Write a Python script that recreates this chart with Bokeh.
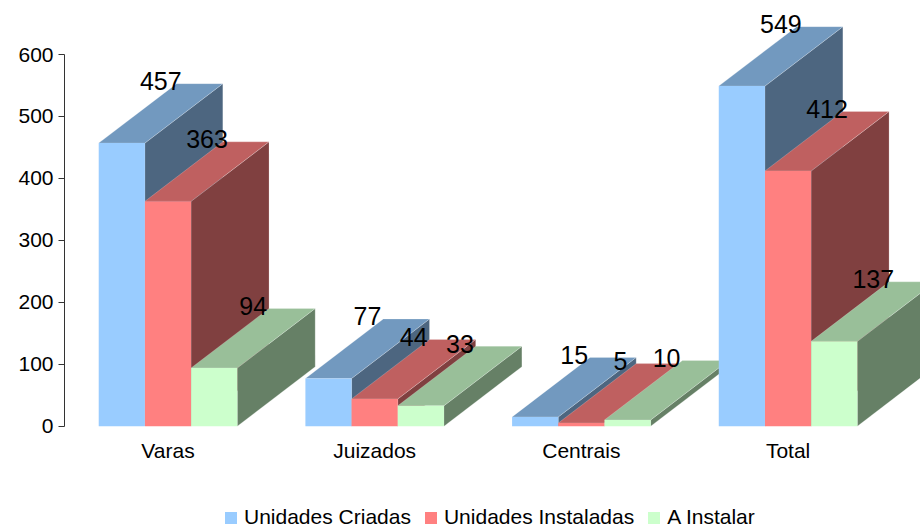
from bokeh.plotting import figure
from bokeh.embed import file_html
from bokeh.resources import INLINE
from bokeh.models import Range1d, FixedTicker, Legend, LegendItem
from bokeh.core.properties import value

categories = ["Varas", "Juizados", "Centrais", "Total"]
unidades_criadas = [457, 77, 15, 549]
unidades_instaladas = [363, 44, 5, 412]
a_instalar = [94, 33, 10, 137]
y_ticks = [0, 100, 200, 300, 400, 500, 600]

FONT = "Liberation Sans"
BAR_W = 0.2235
DEPTH_X = 0.377
DEPTH_Y = 96

series = [
    ("Unidades Criadas", unidades_criadas, -1, "#99CCFF", "#7299BF", "#4D6680"),
    ("Unidades Instaladas", unidades_instaladas, 0, "#FF8080", "#BF6060", "#804040"),
    ("A Instalar", a_instalar, 1, "#CCFFCC", "#99BF99", "#668066"),
]

p = figure(width=920, height=529, output_backend="svg", toolbar_location=None,
           x_range=Range1d(-0.5008, 3.6408), y_range=Range1d(-166.8, 687.2),
           min_border_left=64, min_border_right=0, min_border_top=0, min_border_bottom=0)
p.outline_line_color = None
p.grid.visible = False
p.background_fill_color = "white"
p.border_fill_color = "white"

yaxis = p.yaxis[0]
yaxis.ticker = FixedTicker(ticks=y_ticks)
yaxis.bounds = (0, 600)
yaxis.axis_line_color = "#333333"
yaxis.major_tick_line_color = "#333333"
yaxis.major_tick_out = 6
yaxis.major_tick_in = 0
yaxis.minor_tick_line_color = None
yaxis.major_label_text_font = FONT
yaxis.major_label_text_font_size = "21px"
yaxis.major_label_text_color = "black"
yaxis.major_label_standoff = 5

xaxis = p.xaxis[0]
xaxis.fixed_location = 0
xaxis.ticker = FixedTicker(ticks=list(range(len(categories))))
xaxis.major_label_overrides = {i: c for i, c in enumerate(categories)}
xaxis.axis_line_color = None
xaxis.major_tick_line_color = None
xaxis.minor_tick_line_color = None
xaxis.major_tick_out = 0
xaxis.major_tick_in = 0
xaxis.major_label_text_font = FONT
xaxis.major_label_text_font_size = "21px"
xaxis.major_label_text_color = "black"
xaxis.major_label_standoff = 13

items = []
for g in range(len(categories)):
    for name, vals, off, front, top, side in series:
        left = g + off * BAR_W - BAR_W / 2
        right = left + BAR_W
        v = vals[g]
        p.patch([right, right + DEPTH_X, right + DEPTH_X, right],
                [0, DEPTH_Y, v + DEPTH_Y, v],
                fill_color=side, line_color="white", line_alpha=0.2, line_width=1)
        p.patch([left, right, right + DEPTH_X, left + DEPTH_X],
                [v, v, v + DEPTH_Y, v + DEPTH_Y],
                fill_color=top, line_color="white", line_alpha=0.2, line_width=1)
        r = p.quad(left=left, right=right, bottom=0, top=v,
                   fill_color=front, line_color=None)
        if g == 0:
            items.append(LegendItem(label=name, renderers=[r]))

for name, vals, off, front, top, side in series:
    xs = [g + off * BAR_W for g in range(len(categories))]
    p.text(xs, vals, text=[str(v) for v in vals], x_offset=39, y_offset=-62,
           text_font=value(FONT), text_font_size="25px", text_color="black",
           text_align="center", text_baseline="middle")

legend = Legend(items=items, orientation="horizontal", location=(159, 0),
                glyph_width=15, glyph_height=15, label_standoff=6, spacing=12,
                padding=0, margin=0, border_line_color=None,
                background_fill_alpha=0,
                label_text_font=FONT, label_text_font_size="21px",
                label_text_color="black")
p.add_layout(legend, "center")

open("out.html", "w").write(file_html(p, INLINE))
